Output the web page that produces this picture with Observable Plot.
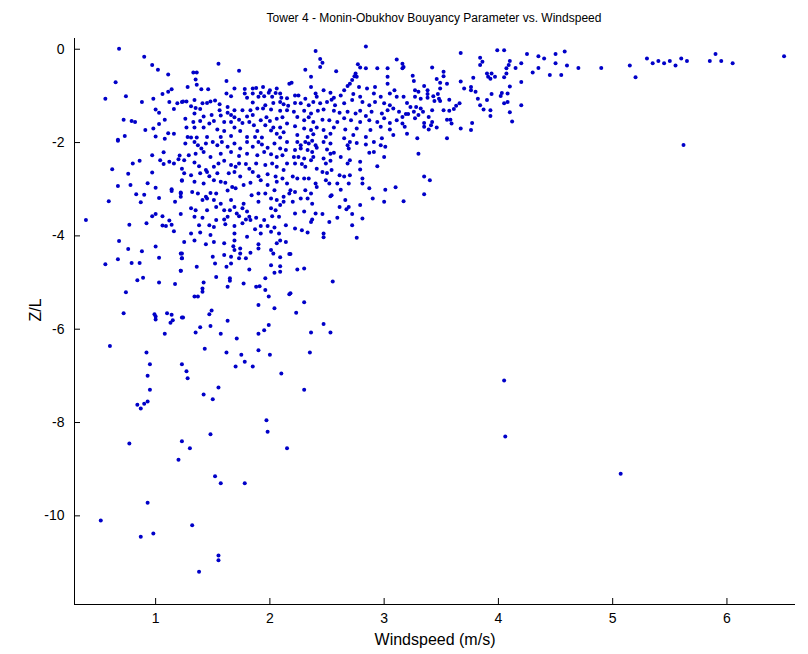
<!DOCTYPE html>
<html><head><meta charset="utf-8">
<script src="https://cdn.jsdelivr.net/npm/d3@7"></script>
<script src="https://cdn.jsdelivr.net/npm/@observablehq/plot@0.6"></script>
<style>
body{margin:0;background:#fff;font-family:"Liberation Sans",Arial,sans-serif;}
#title{height:30px;width:808px;position:relative;}
#title span{position:absolute;left:434px;top:11px;transform:translateX(-50%);font-size:12px;white-space:nowrap;color:#000;}
</style></head>
<body>
<div id="title"><span>Tower 4 - Monin-Obukhov Bouyancy Parameter vs. Windspeed</span></div>
<div id="chart"></div>
<script>
const titleText = "Tower 4 - Monin-Obukhov Bouyancy Parameter vs. Windspeed";
const xLabel = "Windspeed (m/s)";
const yLabel = "Z/L";
const xTicks = [1, 2, 3, 4, 5, 6];
const yTicks = [0, -2, -4, -6, -8, -10];
const xDomain = [0.29, 6.6];
const yDomain = [-11.9, 0.23];

// [windspeed, Z/L] pairs, grouped by region
const upperLeft = [[0.68,0.01],[0.90,-0.16],[0.97,-0.34],[1.02,-0.44],[1.11,-0.54],[0.65,-0.71],[0.56,-1.06],[0.74,-1.01],[0.88,-1.13],[0.98,-1.06],[1.06,-0.96],[1.11,-0.91],[1.14,-0.86],[1.12,-1.13],[1.19,-1.16],[1.23,-1.13],[1.16,-1.28],[1.0,-1.29],[1.03,-1.36],[1.08,-1.51],[0.72,-1.51],[0.79,-1.54],[0.82,-1.56],[0.91,-1.73],[0.98,-1.7],[1.03,-1.6],[1.11,-1.8],[1.16,-1.81],[0.73,-1.86],[1.0,-1.87],[1.08,-1.92],[0.67,-1.94]];
const upperMid = [[1.55,-0.31],[1.73,-0.46],[1.33,-0.5],[1.36,-0.5],[1.35,-0.65],[1.36,-0.76],[1.28,-0.81],[1.62,-0.68],[1.40,-0.86],[1.46,-0.86],[1.69,-0.84],[1.78,-0.85],[1.85,-0.84],[1.88,-0.83],[1.94,-0.81],[2.0,-0.88],[2.06,-0.84],[2.17,-0.74],[1.62,-0.95],[1.78,-0.95],[1.85,-0.95],[1.92,-0.94],[1.99,-0.93],[2.05,-0.94],[2.09,-0.95],[1.66,-1.01],[1.80,-1.04],[1.90,-1.02],[1.95,-1.01],[2.02,-1.02],[2.10,-1.04],[2.15,-1.05],[1.24,-1.12],[1.27,-1.12],[1.34,-1.09],[1.41,-1.16],[1.45,-1.15],[1.48,-1.12],[1.52,-1.10],[1.56,-1.18],[1.85,-1.14],[1.96,-1.2],[2.03,-1.15],[2.09,-1.13],[2.12,-1.18],[2.16,-1.21],[1.31,-1.22],[1.35,-1.26],[1.39,-1.28],[1.56,-1.31],[1.63,-1.24],[1.69,-1.31],[1.76,-1.31],[1.83,-1.31],[1.89,-1.27],[1.94,-1.27],[2.01,-1.29],[2.09,-1.32],[2.15,-1.31],[1.34,-1.38],[1.42,-1.44],[1.49,-1.41],[1.57,-1.42],[1.63,-1.36],[1.66,-1.41],[1.69,-1.46],[1.73,-1.51],[1.80,-1.44],[1.85,-1.41],[1.92,-1.52],[1.97,-1.46],[2.0,-1.54],[2.06,-1.49],[2.11,-1.46],[1.26,-1.49],[1.33,-1.56],[1.39,-1.54],[1.47,-1.59],[1.51,-1.54],[1.60,-1.56],[1.66,-1.56],[1.76,-1.58],[1.82,-1.56],[1.86,-1.63],[1.96,-1.63],[2.03,-1.68],[2.09,-1.68],[2.15,-1.59],[1.27,-1.68],[1.34,-1.68],[1.42,-1.68],[1.54,-1.72],[1.60,-1.75],[1.69,-1.68],[1.74,-1.75],[1.89,-1.75],[2.01,-1.74],[2.06,-1.81],[2.12,-1.78],[1.28,-1.88],[1.31,-1.89],[1.36,-1.89],[1.45,-1.88],[1.57,-1.88],[1.66,-1.86],[1.80,-1.88],[1.87,-1.88],[1.93,-1.89],[2.09,-1.89]];
const upperRight = [[2.84,0.06],[2.40,-0.04],[2.44,-0.21],[2.46,-0.29],[2.44,-0.38],[2.31,-0.44],[2.58,-0.47],[2.77,-0.32],[2.79,-0.39],[2.84,-0.41],[2.94,-0.41],[3.11,-0.22],[3.03,-0.41],[2.36,-0.59],[2.75,-0.52],[2.74,-0.58],[2.76,-0.59],[3.03,-0.59],[2.19,-0.72],[2.36,-0.81],[2.72,-0.66],[2.70,-0.74],[2.68,-0.79],[2.65,-0.88],[2.78,-0.81],[2.85,-0.84],[2.92,-0.81],[3.03,-0.74],[3.09,-0.88],[2.22,-0.99],[2.25,-0.99],[2.31,-1.06],[2.40,-0.95],[2.41,-1.02],[2.47,-0.88],[2.53,-0.93],[2.56,-1.04],[2.62,-0.99],[2.73,-0.96],[2.79,-1.02],[2.91,-0.95],[2.97,-1.02],[3.05,-0.95],[3.11,-1.02],[2.22,-1.15],[2.27,-1.16],[2.34,-1.2],[2.38,-1.13],[2.44,-1.16],[2.50,-1.13],[2.54,-1.08],[2.57,-1.2],[2.65,-1.16],[2.72,-1.09],[2.81,-1.13],[2.87,-1.2],[2.92,-1.13],[3.0,-1.16],[3.05,-1.2],[3.08,-1.27],[3.13,-1.34],[2.21,-1.34],[2.30,-1.32],[2.36,-1.38],[2.42,-1.32],[2.47,-1.29],[2.56,-1.32],[2.61,-1.36],[2.68,-1.34],[2.75,-1.38],[2.79,-1.32],[2.84,-1.43],[2.89,-1.34],[2.98,-1.38],[3.03,-1.31],[2.24,-1.45],[2.30,-1.52],[2.34,-1.46],[2.38,-1.56],[2.46,-1.51],[2.52,-1.52],[2.59,-1.56],[2.65,-1.48],[2.71,-1.52],[2.79,-1.56],[2.87,-1.52],[2.94,-1.56],[3.0,-1.48],[3.05,-1.58],[3.11,-1.52],[2.22,-1.65],[2.30,-1.7],[2.36,-1.73],[2.41,-1.68],[2.47,-1.73],[2.56,-1.68],[2.66,-1.72],[2.76,-1.7],[2.88,-1.73],[2.97,-1.66],[3.05,-1.72],[2.24,-1.84],[2.33,-1.88],[2.38,-1.82],[2.49,-1.88],[2.53,-1.81],[2.65,-1.91],[2.73,-1.84],[2.84,-1.88],[2.98,-1.91],[3.08,-1.84]];
const farUpper = [[3.67,-0.08],[3.99,-0.02],[3.84,-0.18],[3.86,-0.27],[3.84,-0.34],[4.09,-0.34],[4.07,-0.41],[3.16,-0.31],[3.17,-0.38],[3.16,-0.41],[3.42,-0.39],[3.52,-0.48],[3.52,-0.58],[3.25,-0.57],[3.26,-0.68],[3.46,-0.64],[3.49,-0.72],[3.55,-0.74],[3.67,-0.69],[3.78,-0.61],[3.90,-0.52],[3.91,-0.59],[3.93,-0.63],[3.94,-0.52],[3.97,-0.59],[4.07,-0.52],[3.35,-0.79],[3.49,-0.84],[3.70,-0.84],[3.76,-0.81],[3.76,-0.88],[3.80,-0.91],[3.94,-0.96],[4.03,-0.94],[4.08,-0.95],[3.27,-0.88],[3.30,-0.91],[3.38,-0.88],[3.38,-0.96],[3.38,-1.04],[3.17,-1.02],[3.27,-1.02],[3.32,-1.06],[3.43,-1.01],[3.47,-0.96],[3.48,-1.06],[3.49,-1.11],[3.44,-1.11],[3.57,-1.08],[3.66,-1.16],[3.63,-1.21],[3.61,-1.28],[3.57,-1.32],[3.82,-1.06],[3.84,-1.2],[3.87,-1.29],[3.90,-1.09],[3.93,-1.31],[4.05,-1.16],[4.08,-1.13],[3.20,-1.15],[3.23,-1.24],[3.28,-1.24],[3.32,-1.27],[3.34,-1.34],[3.42,-1.31],[3.26,-1.34],[3.30,-1.41],[3.19,-1.39],[3.21,-1.39],[3.16,-1.45],[3.39,-1.45],[3.52,-1.31],[3.42,-1.56],[3.41,-1.63],[3.35,-1.58],[3.27,-1.48],[3.16,-1.59],[3.18,-1.66],[3.55,-1.51],[3.58,-1.51],[3.59,-1.59],[3.35,-1.66],[3.39,-1.72],[3.46,-1.68],[3.55,-1.91],[3.67,-1.7],[3.77,-1.58],[3.76,-1.73],[3.93,-1.43],[3.29,-1.91],[3.20,-1.81],[3.30,-2.24],[3.35,-2.73],[3.40,-2.81],[3.35,-3.11],[3.17,-3.26]];
const rightTail = [[4.10,-0.25],[4.15,-0.40],[4.20,-0.30],[4.25,-0.10],[4.30,-0.50],[4.35,-0.40],[4.40,-0.20],[4.45,-0.55],[4.50,-0.30],[4.55,-0.55],[4.60,-0.35],[4.70,-0.40],[4.90,-0.40],[4.05,-0.60],[4.10,-0.80],[4.20,-0.70],[4.02,-1.00],[4.10,-1.35],[4.20,-1.20],[4.12,-1.55],[4.35,-0.15],[4.50,-0.10],[4.58,-0.05],[4.05,-0.02],[5.15,-0.35],[5.20,-0.60],[5.30,-0.20],[5.35,-0.30],[5.40,-0.25],[5.45,-0.30],[5.50,-0.25],[5.55,-0.35],[5.60,-0.20],[5.65,-0.25],[5.85,-0.25],[5.90,-0.10],[5.95,-0.25],[6.05,-0.30],[6.50,-0.15],[5.62,-2.05],[4.05,-7.10],[4.06,-8.30],[5.07,-9.10]];
const middleLeft = [[0.67,-1.96],[0.97,-2.27],[1.07,-2.21],[1.21,-2.28],[1.04,-2.38],[1.07,-2.46],[1.12,-2.41],[1.16,-2.45],[1.20,-2.36],[1.23,-2.56],[0.86,-2.39],[0.80,-2.45],[0.62,-2.57],[0.76,-2.67],[0.97,-2.64],[1.23,-2.82],[0.67,-2.93],[0.78,-2.91],[0.93,-2.87],[1.0,-2.97],[1.14,-3.0],[1.14,-3.04],[1.22,-3.07],[1.22,-3.16],[0.83,-3.11],[0.90,-3.12],[1.03,-3.19],[0.59,-3.26],[0.87,-3.28],[1.17,-3.27],[0.39,-3.66],[0.77,-3.76],[0.92,-3.73],[0.97,-3.58],[1.0,-3.53],[1.06,-3.58],[1.12,-3.67],[1.14,-3.76],[1.06,-3.78],[1.09,-3.79],[1.16,-3.9],[1.22,-3.53]];
const middleCenter = [[1.26,-2.02],[1.34,-1.99],[1.37,-2.06],[1.40,-2.13],[1.44,-2.02],[1.50,-1.99],[1.54,-2.06],[1.58,-1.99],[1.63,-2.09],[1.69,-2.02],[1.74,-2.13],[1.80,-1.99],[1.85,-2.09],[1.90,-1.99],[1.93,-2.04],[1.98,-2.11],[2.04,-2.02],[2.09,-2.13],[2.15,-1.99],[2.14,-2.16],[1.29,-2.27],[1.35,-2.24],[1.42,-2.2],[1.48,-2.31],[1.57,-2.24],[1.66,-2.2],[1.73,-2.29],[1.80,-2.24],[1.89,-2.27],[1.95,-2.2],[2.01,-2.25],[2.06,-2.31],[2.11,-2.27],[1.25,-2.38],[1.34,-2.43],[1.38,-2.51],[1.44,-2.59],[1.45,-2.63],[1.51,-2.52],[1.55,-2.45],[1.60,-2.39],[1.66,-2.48],[1.70,-2.52],[1.73,-2.45],[1.79,-2.46],[1.82,-2.56],[1.88,-2.45],[1.96,-2.48],[2.02,-2.45],[2.06,-2.52],[2.12,-2.59],[2.15,-2.45],[1.25,-2.66],[1.31,-2.7],[1.39,-2.66],[1.47,-2.72],[1.54,-2.66],[1.64,-2.66],[1.69,-2.63],[1.74,-2.73],[1.85,-2.63],[1.90,-2.72],[1.98,-2.68],[2.05,-2.73],[2.11,-2.77],[1.23,-2.81],[1.34,-2.84],[1.42,-2.88],[1.51,-2.81],[1.57,-2.84],[1.61,-2.86],[1.67,-2.95],[1.77,-2.91],[1.83,-2.86],[1.92,-2.81],[1.98,-2.91],[2.06,-2.84],[2.15,-2.88],[1.22,-3.09],[1.32,-3.06],[1.37,-3.09],[1.44,-3.16],[1.48,-3.08],[1.53,-3.09],[1.63,-3.03],[1.70,-2.98],[1.84,-3.13],[1.90,-3.09],[1.96,-3.09],[2.04,-3.02],[2.12,-3.16],[2.17,-3.09],[1.41,-3.23],[1.45,-3.2],[1.51,-3.23],[1.57,-3.31],[1.66,-3.23],[1.69,-3.38],[1.77,-3.31],[1.90,-3.27],[2.01,-3.2],[2.06,-3.23],[2.12,-3.27],[1.31,-3.41],[1.35,-3.45],[1.45,-3.45],[1.53,-3.38],[1.60,-3.45],[1.65,-3.45],[1.71,-3.52],[1.76,-3.41],[1.80,-3.48],[1.82,-3.59],[2.01,-3.41],[2.05,-3.45],[2.09,-3.34],[1.34,-3.59],[1.41,-3.61],[1.53,-3.66],[1.60,-3.65],[1.63,-3.59],[1.73,-3.58],[1.79,-3.65],[1.83,-3.66],[1.88,-3.61],[1.95,-3.66],[2.02,-3.58],[2.08,-3.59],[1.38,-3.77],[1.47,-3.77],[1.51,-3.81],[1.61,-3.75],[1.69,-3.79],[1.76,-3.73],[1.87,-3.86],[1.92,-3.79],[1.98,-3.79],[2.04,-3.82],[2.14,-3.77],[1.31,-3.95],[1.39,-3.93],[1.48,-3.98],[1.69,-3.95],[1.80,-4.02],[1.92,-3.95],[2.01,-3.91],[2.08,-3.95]];
const middleRight = [[2.24,-1.99],[2.27,-2.06],[2.31,-1.99],[2.34,-2.02],[2.37,-1.96],[2.40,-2.06],[2.47,-1.99],[2.53,-2.02],[2.68,-2.06],[2.70,-1.99],[2.76,-2.01],[2.84,-2.04],[2.91,-1.99],[2.97,-2.06],[3.01,-2.09],[2.22,-2.16],[2.27,-2.13],[2.33,-2.16],[2.37,-2.2],[2.41,-2.11],[2.50,-2.15],[2.53,-2.24],[2.56,-2.22],[2.69,-2.13],[2.87,-2.22],[2.91,-2.2],[3.0,-2.31],[2.21,-2.31],[2.25,-2.31],[2.30,-2.34],[2.36,-2.38],[2.38,-2.31],[2.47,-2.34],[2.49,-2.45],[2.53,-2.39],[2.62,-2.31],[2.68,-2.45],[2.70,-2.38],[2.79,-2.41],[2.94,-2.51],[2.22,-2.45],[2.28,-2.46],[2.31,-2.52],[2.41,-2.56],[2.46,-2.63],[2.50,-2.65],[2.54,-2.59],[2.61,-2.7],[2.65,-2.73],[2.70,-2.7],[2.79,-2.58],[2.81,-2.77],[2.20,-2.73],[2.24,-2.77],[2.30,-2.77],[2.34,-2.77],[2.40,-2.88],[2.41,-2.95],[2.49,-2.81],[2.52,-2.88],[2.59,-2.88],[2.69,-2.88],[2.81,-2.88],[2.18,-3.02],[2.22,-3.06],[2.31,-3.02],[2.36,-3.09],[2.53,-3.15],[2.62,-3.01],[2.87,-2.98],[3.01,-3.01],[3.10,-2.96],[2.90,-3.2],[3.0,-3.27],[2.20,-3.27],[2.27,-3.2],[2.33,-3.2],[2.37,-3.31],[2.66,-3.23],[2.69,-3.38],[2.67,-3.43],[2.61,-3.38],[2.79,-3.34],[2.54,-3.13],[2.22,-3.52],[2.30,-3.48],[2.40,-3.52],[2.46,-3.53],[2.37,-3.65],[2.36,-3.7],[2.52,-3.7],[2.59,-3.61],[2.72,-3.53],[2.81,-3.63],[2.72,-3.77],[2.22,-3.84],[2.28,-3.88],[2.33,-3.93],[2.47,-3.95],[2.47,-4.03],[2.76,-4.04]];
const lowerLeft = [[0.68,-4.11],[0.76,-4.28],[0.88,-4.33],[1.0,-4.23],[1.22,-4.38],[1.23,-4.48],[0.67,-4.5],[0.56,-4.61],[0.79,-4.58],[0.86,-4.58],[1.03,-4.47],[1.22,-4.75],[0.84,-4.95],[0.89,-4.9],[1.03,-5.0],[1.17,-5.03],[0.74,-5.21],[0.72,-5.66],[0.99,-5.68],[1.0,-5.73],[1.0,-5.79],[1.10,-5.66],[1.14,-5.69],[1.15,-5.81],[1.13,-5.86],[1.23,-5.75],[1.08,-6.1],[0.60,-6.36]];
const lowerCenter = [[1.25,-4.13],[1.34,-4.1],[1.44,-4.18],[1.51,-4.13],[1.60,-4.16],[1.69,-4.1],[1.68,-4.22],[1.74,-4.27],[1.69,-4.3],[1.90,-4.18],[1.90,-4.27],[2.06,-4.16],[2.09,-4.1],[2.14,-4.13],[2.01,-4.3],[2.03,-4.38],[1.23,-4.38],[1.23,-4.48],[1.50,-4.45],[1.60,-4.41],[1.66,-4.45],[1.74,-4.38],[1.83,-4.36],[2.09,-4.46],[2.17,-4.39],[1.36,-4.66],[1.52,-4.59],[1.62,-4.66],[1.66,-4.59],[1.73,-4.48],[1.79,-4.48],[2.01,-4.63],[2.09,-4.65],[2.04,-4.79],[2.09,-4.77],[1.82,-4.72],[1.22,-4.75],[1.53,-4.88],[1.65,-4.91],[1.65,-4.96],[1.77,-5.02],[1.96,-4.91],[1.42,-5.0],[1.41,-5.13],[1.41,-5.2],[1.63,-5.09],[1.88,-5.09],[1.91,-5.08],[1.96,-5.16],[2.17,-5.25],[1.34,-5.3],[1.37,-5.3],[1.99,-5.3],[1.90,-5.48],[2.04,-5.55],[1.49,-5.6],[1.47,-5.68],[1.24,-5.75],[1.63,-5.82],[1.39,-5.96],[1.48,-5.93],[1.35,-6.07],[1.57,-6.1],[1.71,-6.2],[1.90,-6.1],[1.95,-6.02],[1.99,-5.91],[1.43,-6.42],[2.18,-4.39],[2.24,-4.72],[2.30,-4.7],[2.55,-4.98],[2.18,-5.23],[2.30,-5.42],[2.23,-5.65],[2.47,-5.89],[2.36,-6.07],[2.53,-6.07]];
const bottomSparse = [[0.52,-10.1],[0.77,-8.45],[0.84,-7.62],[0.87,-7.7],[0.90,-7.6],[0.93,-7.55],[0.92,-6.5],[0.95,-6.75],[0.93,-7.0],[0.95,-7.3],[0.87,-10.45],[0.93,-9.72],[0.98,-10.38],[1.23,-6.75],[1.27,-6.9],[1.28,-7.05],[1.20,-8.8],[1.23,-8.4],[1.30,-8.55],[1.32,-10.2],[1.38,-11.2],[1.55,-10.85],[1.55,-10.95],[1.52,-9.15],[1.57,-9.3],[1.48,-8.25],[1.42,-7.4],[1.50,-7.5],[1.55,-7.25],[1.62,-6.5],[1.70,-6.8],[1.75,-6.55],[1.78,-6.7],[1.78,-9.3],[1.85,-6.8],[1.90,-6.45],[2.0,-6.55],[1.97,-7.95],[1.98,-8.2],[2.15,-8.55],[2.10,-6.95],[2.30,-7.3],[2.35,-6.5]];

const groups = [upperLeft, upperMid, upperRight, farUpper, rightTail, middleLeft, middleCenter, middleRight, lowerLeft, lowerCenter, bottomSparse];
const points = groups.flat().map(([w, z]) => ({windspeed: w, zl: z}));

const fontFamily = '"Liberation Sans", Arial, sans-serif';
const chart = Plot.plot({
  width: 808,
  height: 624,
  marginLeft: 74,
  marginRight: 13,
  marginTop: 8,
  marginBottom: 50,
  style: {fontFamily, fontSize: "13px", color: "#000", background: "#fff"},
  x: {domain: xDomain, ticks: xTicks, label: null},
  y: {domain: yDomain, ticks: yTicks, label: null},
  marks: [
    Plot.ruleX([xDomain[0]], {stroke: "#000", strokeWidth: 1}),
    Plot.ruleY([yDomain[0]], {stroke: "#000", strokeWidth: 1}),
    Plot.tickX(xTicks, {x: d => d, insetTop: 566 - 6, stroke: "#000"}),
    Plot.tickY(yTicks, {y: d => d, insetRight: 721 - 6, stroke: "#000"}),
    Plot.axisX(xTicks, {tickSize: 0, tickPadding: 9, tickFormat: d => String(d), fontSize: 14}),
    Plot.axisY(yTicks, {tickSize: 0, tickPadding: 10, tickFormat: d => String(d), fontSize: 14}),
    Plot.dot(points, {x: "windspeed", y: "zl", r: 2, fill: "#0000c8", stroke: null}),
    Plot.text([xLabel], {frameAnchor: "bottom", dy: 40, text: d => d, fontSize: 16}),
    Plot.text([yLabel], {frameAnchor: "left", dx: -39, rotate: -90, text: d => d, fontSize: 16})
  ]
});
document.getElementById("chart").appendChild(chart);
</script>
</body></html>
